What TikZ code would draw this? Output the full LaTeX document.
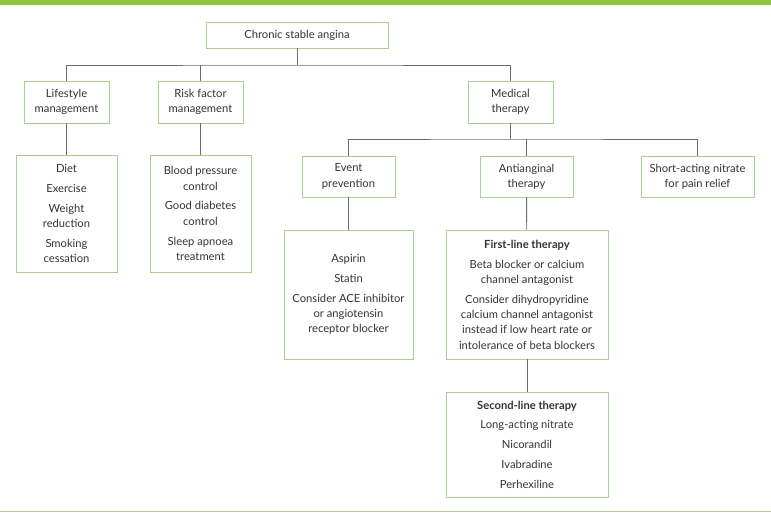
\documentclass[tikz,border=0pt]{standalone}
\usepackage{fontspec}
\setmainfont{Lato}
\usepackage{tikz}
\definecolor{bargreen}{HTML}{8CC63F}
\definecolor{boxgreen}{HTML}{A9D18E}
\definecolor{linegray}{HTML}{6B6B6B}
\definecolor{textgray}{HTML}{333333}
\tikzset{
    box/.style={draw=boxgreen, line width=0.9pt, align=center, inner sep=2pt,
        text=textgray, font=\fontsize{11.2}{15.3}\selectfont},
    link/.style={draw=linegray, line width=0.9pt},
}

\begin{document}
\begin{tikzpicture}[x=1pt,y=-1pt]
    \useasboundingbox (0,0) rectangle (771,514);
    \fill[bargreen] (0,0) rectangle (771,4.5);
    \draw[boxgreen, line width=1pt] (0,511) -- (771,511);
    % top level
    \node[box, minimum width=182pt, minimum height=26pt] (angina) at (297,35) {Chronic stable angina};
    \node[box, minimum width=85pt, minimum height=42pt] (life) at (66.5,102) {Lifestyle\\management};
    \node[box, minimum width=85pt, minimum height=42pt] (risk) at (200.5,102) {Risk factor\\management};
    \node[box, minimum width=85pt, minimum height=42pt] (medical) at (510.5,102) {Medical\\therapy};
    % medical therapy branches
    \node[box, minimum width=93pt, minimum height=41pt] (event) at (348.5,176.5) {Event\\prevention};
    \node[box, minimum width=93pt, minimum height=41pt] (antiang) at (526.5,176.5) {Antianginal\\therapy};
    \node[box, minimum width=113pt, minimum height=41pt] (nitrate) at (697.5,176.5) {Short-acting nitrate\\for pain relief};
    % lists
    \node[box, minimum width=101pt, minimum height=117pt] (lifelist) at (66.5,213.5)
        {Diet\\[4.5pt] Exercise\\[4.5pt] Weight\\reduction\\[4.5pt] Smoking\\cessation};
    \node[box, minimum width=101pt, minimum height=117pt] (risklist) at (200.5,213.5)
        {Blood pressure\\control\\[4.5pt] Good diabetes\\control\\[4.5pt] Sleep apnoea\\treatment};
    \node[box, minimum width=129pt, minimum height=129pt] (eventlist) at (348.5,294.5)
        {Aspirin\\[4.5pt] Statin\\[4.5pt] Consider ACE inhibitor\\or angiotensin\\receptor blocker};
    \node[box, minimum width=162pt, minimum height=129pt] (firstline) at (527,294.5)
        {\textbf{First-line therapy}\\[4.5pt] Beta blocker or calcium\\channel antagonist\\[4.5pt]
         Consider dihydropyridine\\calcium channel antagonist\\instead if low heart rate or\\intolerance of beta blockers};
    \node[box, minimum width=162pt, minimum height=105pt] (secondline) at (527,444.5)
        {\textbf{Second-line therapy}\\[4.5pt] Long-acting nitrate\\[4.5pt] Nicorandil\\[4.5pt] Ivabradine\\[4.5pt] Perhexiline};
    % connectors
    \coordinate (bus1) at (297,65);
    \coordinate (bus2) at (510.5,139);
    \draw[link] (angina) -- (bus1);
    \draw[link] (life.north) |- (bus1) -| (medical.north);
    \draw[link] (risk.north) -- (risk.north |- bus1);
    \draw[link] (medical) -- (bus2);
    \draw[link] (event.north) |- (bus2) -| (nitrate.north);
    \draw[link] (antiang.north) -- (antiang.north |- bus2);
    \draw[link] (life) -- (lifelist);
    \draw[link] (risk) -- (risklist);
    \draw[link] (event) -- (eventlist);
    \draw[link] (antiang) -- (firstline);
    \draw[link] (firstline) -- (secondline);
\end{tikzpicture}
\end{document}
